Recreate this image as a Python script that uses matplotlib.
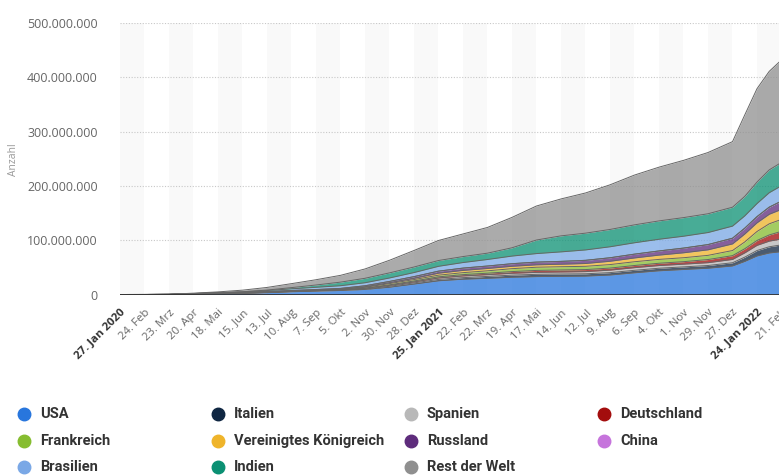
import numpy as np
import pandas as pd
import matplotlib
matplotlib.use('Agg')
import matplotlib.pyplot as plt
import matplotlib.dates as mdates
from matplotlib.ticker import FuncFormatter

# Stichtage (kumulierte Fallzahlen in Millionen)
dates = pd.to_datetime([
    '2020-01-27', '2020-02-24', '2020-03-23', '2020-04-20', '2020-05-18', '2020-06-15',
    '2020-07-13', '2020-08-10', '2020-09-07', '2020-10-05', '2020-11-02', '2020-11-30',
    '2020-12-28', '2021-01-25', '2021-02-22', '2021-03-22', '2021-04-19', '2021-05-17',
    '2021-06-14', '2021-07-12', '2021-08-09', '2021-09-06', '2021-10-04', '2021-11-01',
    '2021-11-29', '2021-12-27', '2022-01-10', '2022-01-24', '2022-02-07', '2022-02-21'])

usa = [0.0, 0.0, 0.04, 0.78, 1.5, 2.1, 3.4, 5.1, 6.3, 7.4, 9.3, 13.5, 19.3, 25.3, 28.2,
       29.9, 31.8, 33.0, 33.5, 33.9, 35.9, 40.0, 43.7, 46.1, 48.4, 52.6, 61.0, 71.0, 76.5, 79.0]
italien = [0.0, 0.0002, 0.064, 0.181, 0.226, 0.237, 0.243, 0.251, 0.278, 0.327, 0.73, 1.6, 2.05,
           2.47, 2.83, 3.42, 3.87, 4.15, 4.24, 4.27, 4.38, 4.56, 4.67, 4.76, 5.03, 5.86, 7.77, 10.0, 11.4, 12.4]
spanien = [0.0, 0.0, 0.035, 0.2, 0.232, 0.244, 0.256, 0.323, 0.525, 0.79, 1.24, 1.65, 1.88, 2.6,
           3.13, 3.23, 3.41, 3.6, 3.73, 3.99, 4.6, 4.88, 4.96, 5.0, 5.17, 6.13, 7.9, 9.5, 10.4, 10.9]
deutschland = [0.0, 0.00002, 0.029, 0.147, 0.177, 0.187, 0.199, 0.217, 0.25, 0.3, 0.55, 1.06, 1.67,
               2.14, 2.4, 2.67, 3.13, 3.6, 3.72, 3.74, 3.8, 3.98, 4.22, 4.6, 5.78, 6.96, 7.6, 9.0, 11.4, 14.0]
frankreich = [0.0, 0.00001, 0.02, 0.156, 0.18, 0.194, 0.21, 0.24, 0.33, 0.62, 1.47, 2.27, 2.58, 3.08,
              3.67, 4.4, 5.35, 5.87, 5.95, 6.0, 6.4, 6.9, 7.1, 7.25, 7.7, 9.4, 12.5, 16.5, 20.5, 22.0]
uk = [0.0, 0.00001, 0.006, 0.125, 0.245, 0.28, 0.29, 0.31, 0.35, 0.5, 1.05, 1.62, 2.3, 3.65, 4.12,
      4.3, 4.4, 4.45, 4.6, 5.2, 6.1, 7.0, 7.9, 9.1, 10.2, 12.2, 14.6, 16.0, 17.6, 18.5]
russland = [0.0, 0.0, 0.0004, 0.047, 0.29, 0.53, 0.73, 0.89, 1.03, 1.22, 1.66, 2.3, 3.05, 3.7, 4.2,
            4.47, 4.7, 4.93, 5.2, 5.77, 6.4, 6.95, 7.6, 8.6, 9.6, 10.4, 10.7, 11.3, 13.0, 15.2]
china = [0.0028, 0.077, 0.082, 0.084, 0.084, 0.085, 0.085, 0.089, 0.09, 0.091, 0.092, 0.093, 0.096,
         0.1, 0.1, 0.1, 0.1, 0.1, 0.1, 0.1, 0.1, 0.1, 0.1, 0.1, 0.1, 0.1, 0.1, 0.1, 0.1, 0.1]
brasilien = [0.0, 0.0, 0.0019, 0.04, 0.255, 0.89, 1.86, 3.06, 4.14, 4.93, 5.55, 6.34, 7.5, 8.87,
             10.2, 12.0, 14.0, 15.66, 17.45, 19.1, 20.2, 20.9, 21.5, 21.8, 22.1, 22.3, 22.6, 24.1, 26.6, 28.3]
indien = [0.0, 0.0, 0.0004, 0.018, 0.096, 0.333, 0.88, 2.22, 4.2, 6.6, 8.2, 9.4, 10.2, 10.68, 11.0,
          11.65, 15.3, 25.0, 29.5, 30.9, 31.9, 33.0, 33.8, 34.3, 34.6, 34.8, 35.9, 39.5, 42.0, 42.9]
rest = [0.0, 0.003, 0.10, 0.69, 1.52, 2.92, 4.85, 7.3, 9.7, 12.5, 17.2, 23.2, 30.4, 36.9, 41.65,
        47.36, 55.94, 62.64, 68.0, 74.0, 82.2, 91.7, 98.95, 105.4, 112.8, 120.75, 150.0, 172.0, 181.5, 188.7]

names = ['USA', 'Italien', 'Spanien', 'Deutschland', 'Frankreich', 'Vereinigtes Königreich',
         'Russland', 'China', 'Brasilien', 'Indien', 'Rest der Welt']
values = [usa, italien, spanien, deutschland, frankreich, uk, russland, china, brasilien, indien, rest]
colors = ['#2876dd', '#0f2642', '#b8b8b8', '#a30d0d', '#86bd30', '#efb42a',
          '#5e2c7c', '#c674dc', '#7aa8e6', '#0b9073', '#8f8f8f']

tick_labels = ['27. Jan 2020', '24. Feb', '23. Mrz', '20. Apr', '18. Mai', '15. Jun', '13. Jul',
               '10. Aug', '7. Sep', '5. Okt', '2. Nov', '30. Nov', '28. Dez', '25. Jan 2021',
               '22. Feb', '22. Mrz', '19. Apr', '17. Mai', '14. Jun', '12. Jul', '9. Aug', '6. Sep',
               '4. Okt', '1. Nov', '29. Nov', '27. Dez', '24. Jan 2022', '21. Feb']

fig = plt.figure(figsize=(7.79, 4.75), dpi=100)
# Achse ragt rechts leicht über den Bildrand hinaus (wie im Original abgeschnitten)
ax = fig.add_axes([120 / 779, 180.5 / 475, 668.5 / 779, 271.5 / 475])

x = mdates.date2num(dates)
ticks = pd.date_range('2020-01-27', periods=len(tick_labels), freq='28D')
tx = mdates.date2num(ticks)

# abwechselnd hinterlegte Bänder
for i in range(0, len(tx) - 1, 2):
    ax.axvspan(tx[i], tx[i + 1], color='#f9f9f9', lw=0, zorder=0)

base = np.zeros(len(x))
for vals, col in zip(values, colors):
    top = base + np.array(vals) * 1e6
    ax.fill_between(x, base, top, color=col, alpha=0.75, lw=0, zorder=2)
    ax.plot(x, top, color='#666666', lw=0.7, zorder=3)
    base = top

ax.set_xlim(mdates.date2num(pd.Timestamp('2020-01-27')), mdates.date2num(pd.Timestamp('2022-03-01')))
ax.set_ylim(0, 5e8)
ax.set_yticks(np.arange(0, 5.01e8, 1e8))
ax.yaxis.set_major_formatter(FuncFormatter(lambda v, p: f'{int(v):,}'.replace(',', '.')))
ax.yaxis.grid(True, color='#c8c8c8', linestyle=(0, (1, 1.5)), lw=0.8)
ax.set_axisbelow(True)
ax.axhline(0, color='#333333', lw=1.3, zorder=4)
for s in ax.spines.values():
    s.set_visible(False)

ax.tick_params(axis='y', length=0, pad=16, labelcolor='#666666', labelsize=9)
ax.tick_params(axis='x', length=0, pad=9, labelcolor='#666666', labelsize=8.2)
ax.set_xticks(tx)
ax.set_xticklabels(tick_labels, rotation=45, ha='right', rotation_mode='anchor')
for lbl in ax.get_xticklabels():
    lbl.set_family('Open Sans')
    if lbl.get_text().endswith(('2020', '2021', '2022')):
        lbl.set_fontweight('bold')
        lbl.set_color('#333333')
for lbl in ax.get_yticklabels():
    lbl.set_family('Open Sans')

fig.text(14 / 779, 1 - 160 / 475, 'Anzahl', rotation=90, ha='center', va='center',
         color='#999999', fontsize=7.5, family='Open Sans')

# Legende (zeilenweise, 4 Spalten)
dot_x = [24, 218, 411, 604]
txt_x = [40, 234, 427, 620]
row_y = [414, 441, 467]
for k, (name, col) in enumerate(zip(names, colors)):
    r, c = divmod(k, 4)
    fig.lines.append(plt.Line2D([dot_x[c] / 779], [1 - row_y[r] / 475], marker='o', ms=9,
                                color=col, mec=col, transform=fig.transFigure))
    fig.text(txt_x[c] / 779, 1 - row_y[r] / 475, name, ha='left', va='center', fontsize=10.5,
             fontweight='bold', color='#333333', family='Roboto')

fig.savefig('out.png', dpi=100)
